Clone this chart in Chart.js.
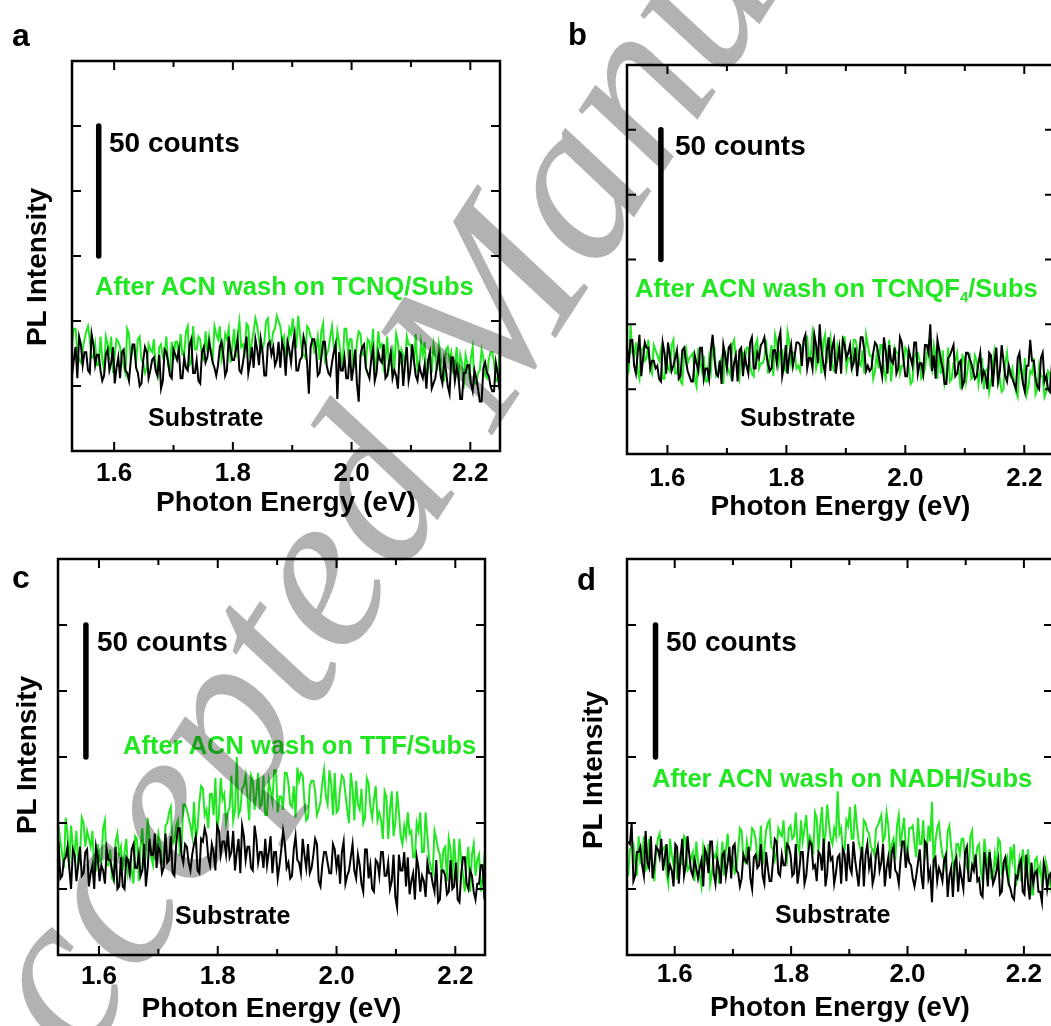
<!DOCTYPE html>
<html>
<head>
<meta charset="utf-8">
<script src="https://cdn.jsdelivr.net/npm/chart.js@4.4.1/dist/chart.umd.min.js"></script>
<style>
  html, body { margin:0; padding:0; background:#fff; }
  body { width:1051px; height:1026px; overflow:hidden; position:relative; font-family:'Liberation Sans', Arial, sans-serif; }
  canvas { position:absolute; }
  .t { position:absolute; white-space:nowrap; font-weight:bold; line-height:1; }
  .rot { position:absolute; white-space:nowrap; font-weight:bold; line-height:1; font-size:28px; transform:translate(-50%,-50%) rotate(-90deg); }
  #wm { position:absolute; white-space:nowrap; font-family:'Liberation Serif','Times New Roman',Times,serif; font-style:italic; font-size:228px; line-height:0; color:rgba(0,0,0,0.3); transform-origin:0 0; transform:rotate(-57deg); left:-57px; top:1140px; pointer-events:none; z-index:10; }
</style>
</head>
<body>
<canvas id="ca" width="506" height="530" style="left:0;top:0"></canvas>
<canvas id="cb" width="540" height="530" style="left:520px;top:0"></canvas>
<canvas id="cc" width="491" height="496" style="left:0;top:530px"></canvas>
<canvas id="cd" width="539" height="496" style="left:520px;top:530px"></canvas>
<div id="txt"></div>
<div id="wm">Accepted Manuscript</div>
<script>
// ---- data: photon energy (eV) and PL intensity (counts) ----
const energies = [
1.520,1.523,1.526,1.529,1.532,1.535,1.538,1.541,1.544,1.547,1.550,1.553,1.556,1.559,1.562,1.565,1.568,1.571,1.574,1.577,
1.580,1.583,1.586,1.589,1.592,1.595,1.598,1.601,1.604,1.607,1.610,1.613,1.616,1.619,1.622,1.625,1.628,1.631,1.634,1.637,
1.640,1.643,1.646,1.649,1.652,1.655,1.658,1.661,1.664,1.667,1.670,1.673,1.676,1.679,1.682,1.685,1.688,1.691,1.694,1.697,
1.700,1.703,1.706,1.709,1.712,1.715,1.718,1.721,1.724,1.727,1.730,1.733,1.736,1.739,1.742,1.745,1.748,1.751,1.754,1.757,
1.760,1.763,1.766,1.769,1.772,1.775,1.778,1.781,1.784,1.787,1.790,1.793,1.796,1.799,1.802,1.805,1.808,1.811,1.814,1.817,
1.820,1.823,1.826,1.829,1.832,1.835,1.838,1.841,1.844,1.847,1.850,1.853,1.856,1.859,1.862,1.865,1.868,1.871,1.874,1.877,
1.880,1.883,1.886,1.889,1.892,1.895,1.898,1.901,1.904,1.907,1.910,1.913,1.916,1.919,1.922,1.925,1.928,1.931,1.934,1.937,
1.940,1.943,1.946,1.949,1.952,1.955,1.958,1.961,1.964,1.967,1.970,1.973,1.976,1.979,1.982,1.985,1.988,1.991,1.994,1.997,
2.000,2.003,2.006,2.009,2.012,2.015,2.018,2.021,2.024,2.027,2.030,2.033,2.036,2.039,2.042,2.045,2.048,2.051,2.054,2.057,
2.060,2.063,2.066,2.069,2.072,2.075,2.078,2.081,2.084,2.087,2.090,2.093,2.096,2.099,2.102,2.105,2.108,2.111,2.114,2.117,
2.120,2.123,2.126,2.129,2.132,2.135,2.138,2.141,2.144,2.147,2.150,2.153,2.156,2.159,2.162,2.165,2.168,2.171,2.174,2.177,
2.180,2.183,2.186,2.189,2.192,2.195,2.198,2.201,2.204,2.207,2.210,2.213,2.216,2.219,2.222,2.225,2.228,2.231,2.234,2.237,
2.240,2.243,2.246,2.249,2.252];

// (a) TCNQ
const tcnqSubs = [
33,35,42,29,35,40,28,44,41,33,38,38,31,30,45,41,33,37,37,31,
27,29,37,39,31,34,40,26,32,36,28,38,39,31,30,27,35,41,41,32,
30,25,26,35,40,38,28,31,35,36,31,29,37,24,27,39,38,34,29,28,
39,37,35,39,28,28,36,32,31,41,43,30,30,35,27,26,38,40,34,36,
42,38,34,32,29,33,40,42,37,29,31,44,39,35,35,39,43,31,30,34,
39,44,30,34,40,32,43,39,33,43,38,29,29,41,42,37,40,33,35,42,
32,42,39,29,42,39,34,41,45,31,31,35,36,44,41,34,22,40,43,43,
39,29,30,36,42,42,33,30,29,34,38,41,20,38,31,31,36,28,28,39,
27,32,39,26,19,37,40,41,32,30,28,35,39,27,30,38,35,34,41,28,
29,34,38,28,31,29,24,38,37,25,34,40,27,31,41,35,29,27,33,30,
28,33,24,35,38,24,26,28,33,37,29,26,35,31,25,22,36,36,27,32,
29,20,20,30,30,33,33,26,23,31,28,24,19,19,32,34,30,29,25,23,
23,34,30,24,22];
const tcnqWash = [
44,34,35,41,47,47,38,35,34,39,43,46,48,43,36,36,41,33,33,44,
35,31,44,41,37,44,30,37,43,42,40,35,33,30,47,45,35,40,39,34,
43,44,35,34,30,32,41,39,38,43,32,29,40,41,36,37,44,33,31,42,
35,42,42,36,45,37,37,46,48,33,34,48,39,39,44,43,36,35,46,38,
44,38,35,48,45,43,48,35,38,45,43,47,34,40,47,36,45,50,40,41,
38,49,48,36,42,46,51,48,43,38,39,42,50,51,41,41,46,47,52,50,
48,42,44,36,37,47,45,51,40,40,52,45,39,37,36,48,47,44,43,38,
39,44,35,46,49,35,37,39,44,48,40,37,46,42,36,33,47,47,38,43,
43,32,34,42,46,45,37,38,33,43,42,36,47,31,35,46,40,41,32,35,
44,32,36,39,31,45,42,33,39,37,33,44,41,41,37,34,45,31,32,42,
37,42,28,32,38,30,41,37,31,41,36,27,27,39,40,35,38,31,33,40,
27,37,34,24,37,34,29,36,40,26,26,30,31,39,36,29,28,35,38,38,
34,27,27,37,32];

// (b) TCNQF4
const tcnqf4Subs = [
40,40,31,34,41,35,44,44,34,31,39,46,30,37,43,41,41,33,36,36,
33,34,29,28,43,39,31,43,38,32,34,37,40,29,30,40,41,36,32,30,
28,28,38,35,32,41,41,29,33,33,29,40,46,37,31,30,36,27,42,38,
33,41,42,28,35,38,28,40,41,30,38,34,31,43,45,33,33,39,37,42,
43,45,39,35,32,33,40,40,35,44,47,30,34,42,31,38,42,34,38,43,
43,42,34,44,46,33,37,37,33,46,42,35,50,40,35,31,40,45,32,41,
44,31,36,41,31,44,42,37,39,42,33,35,41,30,37,45,45,40,32,34,
32,33,39,43,42,38,34,30,45,40,31,42,36,35,41,31,33,45,43,36,
30,30,40,37,34,43,43,31,35,35,31,42,42,39,50,32,38,29,44,40,
36,33,27,27,37,38,40,42,30,31,35,36,26,28,39,39,37,35,32,29,
30,35,39,29,32,30,25,39,38,26,35,41,28,32,42,36,30,28,34,31,
29,27,25,37,39,32,27,24,34,34,44,36,36,29,26,25,37,39,28,30,
25,24,33,31,28];
const tcnqf4Wash = [
43,44,35,34,30,32,50,39,38,43,32,29,40,41,36,37,44,33,31,42,
40,38,36,40,29,29,37,33,32,42,44,31,31,36,28,27,39,41,35,37,
38,39,29,26,41,36,32,38,28,28,37,32,42,41,30,31,35,37,27,40,
34,32,30,42,44,37,32,29,39,39,35,41,41,34,31,30,42,44,33,35,
35,37,44,31,37,42,30,46,43,35,40,40,33,32,47,43,35,39,39,33,
34,32,41,42,44,45,36,38,47,43,33,36,38,31,43,46,35,41,45,35,
32,32,42,39,36,45,45,33,37,37,33,44,44,41,35,34,40,31,46,42,
38,38,29,32,39,33,42,42,32,29,37,44,28,35,41,39,39,31,34,34,
41,40,33,27,28,37,39,39,36,29,30,33,38,42,34,32,42,38,29,41,
31,40,27,30,41,28,29,35,36,39,32,25,38,37,28,33,39,29,30,38,
36,27,32,37,25,32,33,24,28,34,40,36,27,29,24,25,35,39,31,30,
33,28,24,22,36,33,27,37,23,26,32,31,37,23,25,34,30,30,22,24,
32,31,23,33,29];

// (c) TTF
const ttfSubs = [
32,42,27,31,43,29,30,36,37,41,33,25,40,38,28,34,41,30,31,39,
40,26,31,34,25,41,37,28,34,32,27,40,36,36,32,29,41,25,26,37,
26,25,37,36,31,40,42,33,33,38,30,32,42,26,33,44,38,38,46,33,
41,39,31,33,46,35,36,45,31,30,42,48,48,38,35,42,41,35,32,38,
42,45,32,31,44,43,48,45,37,34,42,39,32,49,47,38,43,43,38,47,
37,39,47,32,39,44,31,49,45,36,41,41,33,32,49,44,35,39,39,33,
44,34,39,45,31,39,39,29,34,40,47,42,33,35,29,30,40,45,36,35,
31,44,38,33,42,31,33,38,44,42,28,26,34,39,39,35,31,31,42,40,
33,38,27,39,43,27,30,32,37,42,32,29,38,34,27,24,40,40,29,34,
25,24,36,35,30,39,39,30,30,35,25,28,38,22,18,38,32,32,39,26,
37,23,28,31,21,37,33,24,30,28,22,35,31,31,27,24,36,20,21,32,
32,30,23,24,36,25,26,35,21,20,31,37,37,27,25,32,30,24,21,27,
27,34,34,21,30];
const ttfWash = [
36,37,45,50,49,43,38,33,52,46,34,49,41,39,47,34,37,52,50,41,
47,44,41,47,32,32,42,36,35,48,51,34,34,40,29,28,43,46,38,41,
32,39,44,31,35,32,27,45,44,28,41,48,33,38,52,44,37,34,43,39,
46,42,35,35,49,50,54,56,42,43,49,51,39,41,57,57,55,52,49,45,
58,44,48,58,64,63,53,55,48,61,61,53,67,47,53,67,59,61,50,54,
56,68,51,55,75,53,55,63,64,68,60,51,68,66,55,61,69,56,57,68,
53,53,66,62,58,70,70,54,60,60,55,69,69,65,57,56,64,52,71,66,
69,68,58,51,52,64,66,66,62,53,55,58,65,70,60,57,70,65,53,69,
54,55,63,68,67,61,55,50,69,63,51,66,57,55,63,50,52,67,65,56,
52,59,64,51,54,51,44,62,60,44,55,62,45,50,62,54,45,42,49,45,
54,46,47,37,37,50,47,54,39,39,54,45,36,33,31,47,44,40,38,31,
40,41,28,44,40,28,44,33,30,44,36,30,24,35,41,24,38,42,30,36,
38,24,29,37,35];

// (d) NADH
const nadhSubs = [
43,42,50,28,30,39,39,41,34,30,47,35,33,45,29,34,41,40,37,44,
32,37,42,31,34,32,26,42,41,27,37,44,30,34,45,38,32,30,36,33,
29,33,36,26,40,38,31,43,43,31,27,36,33,27,38,39,30,35,41,29,
41,42,32,31,26,29,38,36,35,41,29,25,37,38,33,34,42,30,27,39,
33,28,28,36,44,43,31,30,38,34,34,42,41,38,30,31,42,27,32,39,
39,27,30,38,43,42,33,34,28,39,38,32,44,26,31,43,36,37,27,31,
37,38,27,40,38,28,42,33,31,43,36,31,26,36,41,26,38,42,33,37,
27,30,38,41,32,35,42,26,33,37,29,39,41,32,31,27,36,43,43,33,
39,35,34,29,26,30,35,40,30,25,43,42,29,32,20,36,37,28,33,31,
28,36,38,22,30,33,22,35,37,24,33,29,25,39,41,28,28,34,32,38,
28,29,23,22,39,34,26,39,33,27,29,32,36,23,24,35,37,31,27,25,
22,21,30,29,34,36,24,23,38,27,21,35,27,31,32,24,24,20,35,32,
25,30,31,24,27];
const nadhWash = [
30,40,41,42,35,30,45,35,36,45,32,33,44,38,34,28,39,44,46,39,
40,41,31,27,44,38,34,40,29,29,39,34,45,44,32,33,37,39,28,43,
36,30,26,41,37,35,42,27,31,38,37,41,27,34,43,30,40,46,36,37,
36,31,32,40,48,47,36,35,43,39,40,48,47,44,36,38,49,34,40,47,
50,51,41,40,36,39,48,46,45,51,39,36,48,49,44,45,54,42,39,51,
43,48,53,42,45,43,38,54,52,39,49,56,41,46,57,50,44,42,48,45,
62,46,48,39,40,51,49,56,44,44,57,49,43,40,38,51,50,47,46,41,
40,38,48,49,51,53,43,45,54,49,38,42,44,36,49,53,41,47,52,41,
38,48,48,49,42,37,52,42,42,51,37,39,49,43,58,33,43,48,50,43,
38,36,33,47,49,41,35,31,42,42,38,44,44,36,33,31,45,47,34,36,
41,42,32,28,44,38,34,40,29,29,38,33,44,43,31,32,35,37,26,41,
36,42,26,31,36,28,40,35,29,40,33,23,23,36,37,31,34,27,29,36,
33,29,26,22,31];

const xMajorTicks = [1.6, 1.8, 2.0, 2.2];
const xMinorTicks = [1.7, 1.9, 2.1];
const yTicks = [25, 50, 75, 100, 125];
const scaleBar = [75, 125]; // the "50 counts" bar

const FONT = "'Liberation Sans', Arial, sans-serif";
const GREEN = '#22e622';

const frameTicks = {
  id: 'frameTicks',
  afterDatasetsDraw(chart, args, opts) {
    const { ctx, chartArea: a, scales: { x, y } } = chart;
    ctx.save();
    ctx.strokeStyle = '#000';
    ctx.lineWidth = 2.5;
    ctx.strokeRect(a.left, a.top, a.right - a.left, a.bottom - a.top);
    ctx.lineWidth = 2;
    ctx.beginPath();
    const xt = (v, len) => {
      const p = x.getPixelForValue(v);
      ctx.moveTo(p, a.bottom); ctx.lineTo(p, a.bottom - len);
      ctx.moveTo(p, a.top); ctx.lineTo(p, a.top + len);
    };
    xMajorTicks.forEach(v => xt(v, 9));
    xMinorTicks.forEach(v => xt(v, 6));
    yTicks.forEach(v => {
      const p = y.getPixelForValue(v);
      ctx.moveTo(a.left, p); ctx.lineTo(a.left + 9, p);
      ctx.moveTo(a.right, p); ctx.lineTo(a.right - 9, p);
    });
    ctx.stroke();
    const bx = x.getPixelForValue(opts.barX);
    ctx.lineWidth = 5.5;
    ctx.lineCap = 'round';
    ctx.beginPath();
    ctx.moveTo(bx, y.getPixelForValue(scaleBar[0]));
    ctx.lineTo(bx, y.getPixelForValue(scaleBar[1]));
    ctx.stroke();
    ctx.restore();
  }
};

function makeChart(id, subs, wash, c) {
  const pts = arr => energies.map((e, i) => ({ x: e, y: arr[i] }));
  return new Chart(document.getElementById(id), {
    type: 'line',
    data: {
      datasets: [
        { label: 'Substrate', data: pts(subs), borderColor: '#000', borderWidth: 2, pointRadius: 0, tension: 0 },
        { label: 'After ACN wash', data: pts(wash), borderColor: GREEN, borderWidth: 2, pointRadius: 0, tension: 0 }
      ]
    },
    options: {
      responsive: false, animation: false, devicePixelRatio: 1,
      layout: { padding: { top: c.padTop, right: 6, bottom: 0, left: 0 } },
      plugins: { legend: { display: false }, tooltip: { enabled: false }, frameTicks: { barX: c.barX } },
      scales: {
        x: {
          type: 'linear', min: c.xmin, max: 2.25,
          afterFit(s) { s.height = c.xh; },
          afterBuildTicks(s) { s.ticks = xMajorTicks.map(v => ({ value: v })); },
          grid: { display: false, drawTicks: false },
          border: { display: false },
          ticks: { padding: c.tickPad, color: '#000', autoSkip: false, maxRotation: 0,
                   font: { family: FONT, size: 26, weight: 'bold' },
                   callback: v => Number(v).toFixed(1) },
          title: { display: true, text: 'Photon Energy (eV)', color: '#000',
                   font: { family: FONT, size: 28, weight: 'bold' },
                   padding: { top: 0, bottom: c.titlePad } }
        },
        y: {
          min: 0, max: 150,
          afterFit(s) { s.width = c.yw; },
          ticks: { display: false },
          grid: { display: false, drawTicks: false },
          border: { display: false }
        }
      }
    },
    plugins: [frameTicks]
  });
}

makeChart('ca', tcnqSubs, tcnqWash,     { padTop: 61, xh: 79, yw: 72,  xmin: 1.529, tickPad: 7, titlePad: 10, barX: 1.574 });
makeChart('cb', tcnqf4Subs, tcnqf4Wash, { padTop: 65, xh: 76, yw: 107, xmin: 1.532, tickPad: 9, titlePad: 6,  barX: 1.589 });
makeChart('cc', ttfSubs, ttfWash,       { padTop: 29, xh: 71, yw: 58,  xmin: 1.531, tickPad: 6, titlePad: 0,  barX: 1.578 });
makeChart('cd', nadhSubs, nadhWash,     { padTop: 29, xh: 71, yw: 107, xmin: 1.518, tickPad: 4, titlePad: 1,  barX: 1.567 });

// ---- text annotations ----
const texts = [
  // [html, left, centerY, size, color]
  ['a', 12, 35, 32, '#000'],
  ['b', 568, 34, 31, '#000'],
  ['c', 12, 577, 32, '#000'],
  ['d', 577, 579, 31, '#000'],
  ['50 counts', 109, 142.5, 28, '#000'],
  ['50 counts', 675, 146, 28, '#000'],
  ['50 counts', 97, 641.7, 28, '#000'],
  ['50 counts', 666, 642, 28, '#000'],
  ['After ACN wash on TCNQ/Subs', 95, 286.7, 25.5, GREEN],
  ['After ACN wash on TCNQF<sub style="font-size:15px;vertical-align:-5px">4</sub>/Subs', 635, 288.7, 25.5, GREEN],
  ['After ACN wash on TTF/Subs', 123, 745, 25.5, GREEN],
  ['After ACN wash on NADH/Subs', 652, 778.7, 25.5, GREEN],
  ['Substrate', 148, 417, 25, '#000'],
  ['Substrate', 740, 417.5, 25, '#000'],
  ['Substrate', 175, 915, 25, '#000'],
  ['Substrate', 775, 914, 25, '#000']
];
const host = document.getElementById('txt');
texts.forEach(([h, l, cy, fs, col]) => {
  const d = document.createElement('div');
  d.className = 't';
  d.innerHTML = h;
  d.style.left = l + 'px';
  d.style.top = (cy - 0.49 * fs) + 'px';
  d.style.fontSize = fs + 'px';
  d.style.color = col;
  host.appendChild(d);
});
const yTitles = [[37, 266.5], [26.5, 755], [592.5, 770]];
yTitles.forEach(([cx, cy]) => {
  const d = document.createElement('div');
  d.className = 'rot';
  d.textContent = 'PL Intensity';
  d.style.left = cx + 'px';
  d.style.top = cy + 'px';
  host.appendChild(d);
});
</script>
</body>
</html>
